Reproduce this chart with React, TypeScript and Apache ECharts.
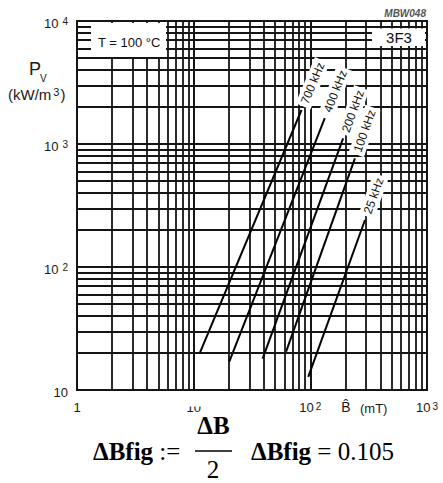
import React, { useEffect, useRef } from "react";
import * as echarts from "echarts";

// ---- data ----
const curveLabels = ["700 kHz", "400 kHz", "200 kHz", "100 kHz", "25 kHz"];
const bStart = [11.3, 20.2, 39, 62, 96]; // mT
const bEnd = [84, 133, 191, 241, 294]; // mT
const pStart = [20, 17, 18, 20.5, 12.8]; // kW/m3
const pEnd = [1890, 1620, 1110, 765, 241]; // kW/m3

const xDecades = [1, 10, 100, 1000];
const yDecades = [10, 100, 1000, 10000];
const minorSteps = [2, 3, 4, 5, 6, 7, 8, 9];

const tempText = "T = 100 °C";
const materialText = "3F3";
const figCode = "MBW048";
const yName = "P";
const ySub = "V";
const yUnit = "{n|(kW/m}{s|3}{n|)}";
const xName = "B\u0302";
const xUnit = "(mT)";
const formulaLeft = "{b|ΔBfig} :=";
const formulaNum = "ΔB";
const formulaDen = "2";
const formulaResultName = "ΔBfig";
const formulaResultValue = 0.105;

const SANS = "'Liberation Sans', Arial, sans-serif";
const SERIF = "'Liberation Serif', 'Times New Roman', serif";
const GRID = "#151515";

export default function App() {
  const ref = useRef<HTMLDivElement>(null);

  useEffect(() => {
    if (!ref.current) return;
    const chart = echarts.init(ref.current, undefined, { renderer: "svg" });

    const xMinor: number[] = [];
    xDecades.slice(0, -1).forEach((d) => minorSteps.forEach((m) => xMinor.push(d * m)));
    const yMinor: number[] = [];
    yDecades.slice(0, -1).forEach((d) => minorSteps.forEach((m) => yMinor.push(d * m)));

    const supFmt = (v: number) => {
      const e = Math.round(Math.log10(v));
      if (e === 0) return "1";
      if (e === 1) return "10";
      return "10{sup|" + e + "}";
    };

    const curveSeries = curveLabels.map((name, i) => ({
      type: "line",
      name,
      data: [
        [bStart[i], pStart[i]],
        [bEnd[i], pEnd[i]],
      ],
      showSymbol: false,
      symbol: "none",
      lineStyle: { color: "#000", width: 2 },
      z: 5,
      silent: true,
    }));

    chart.setOption({
      animation: false,
      grid: {
        left: 77,
        top: 21,
        width: 350,
        height: 369,
        show: true,
        borderColor: GRID,
        borderWidth: 2,
        backgroundColor: "#fff",
      },
      xAxis: {
        type: "log",
        logBase: 10,
        min: 1,
        max: 1000,
        splitNumber: 3,
        axisLine: { show: true, lineStyle: { color: GRID, width: 2 } },
        axisTick: { show: false },
        splitLine: { show: true, lineStyle: { color: GRID, width: 2 } },
        axisLabel: {
          formatter: supFmt,
          fontSize: 13,
          fontFamily: SANS,
          color: "#1a1a1a",
          margin: 11,
          showMaxLabel: true,
          showMinLabel: true,
          rich: { sup: { fontSize: 10, verticalAlign: "top", padding: [0, 0, 0, 2], fontFamily: SANS, color: "#1a1a1a" } },
        },
      },
      yAxis: {
        type: "log",
        logBase: 10,
        min: 10,
        max: 10000,
        splitNumber: 3,
        axisLine: { show: true, lineStyle: { color: GRID, width: 2 } },
        axisTick: { show: false },
        splitLine: { show: true, lineStyle: { color: GRID, width: 2 } },
        axisLabel: {
          formatter: supFmt,
          fontSize: 13,
          fontFamily: SANS,
          color: "#1a1a1a",
          margin: 9,
          padding: [4, 0, 0, 0],
          showMaxLabel: true,
          showMinLabel: true,
          rich: { sup: { fontSize: 10, verticalAlign: "top", padding: [0, 0, 0, 4], fontFamily: SANS, color: "#1a1a1a" } },
        },
      },
      series: [
        {
          type: "line",
          data: [],
          silent: true,
          z: 1,
          markLine: {
            silent: true,
            symbol: ["none", "none"],
            label: { show: false },
            lineStyle: { type: "solid", color: GRID, width: 1.8 },
            data: [
              ...xMinor.map((v) => ({ xAxis: v })),
              ...yMinor.map((v) => ({ yAxis: v })),
            ],
          },
        },
        ...curveSeries,
      ],
    });

    // rotated frequency labels placed at each curve's upper end
    const labelEls: any[] = [];
    curveLabels.forEach((name, i) => {
      const p0 = chart.convertToPixel({ gridIndex: 0 }, [bStart[i], pStart[i]]) as number[];
      const p1 = chart.convertToPixel({ gridIndex: 0 }, [bEnd[i], pEnd[i]]) as number[];
      const ang = Math.atan2(p0[1] - p1[1], p1[0] - p0[0]);
      const gap = 4;
      labelEls.push({
        type: "text",
        x: p1[0] + gap * Math.cos(ang),
        y: p1[1] - gap * Math.sin(ang),
        rotation: ang,
        z: 120,
        style: {
          text: name,
          fontSize: 12,
          fontFamily: SANS,
          fill: "#111",
          align: "left",
          verticalAlign: "middle",
          backgroundColor: "#fff",
          padding: [2, 3],
        },
      });
    });

    chart.setOption({
      graphic: [
        // temperature box
        { type: "rect", shape: { x: 91, y: 23, width: 75, height: 34 }, style: { fill: "#fff" }, z: 100 },
        {
          type: "text",
          x: 98,
          y: 42,
          z: 101,
          style: { text: tempText, fontSize: 13, fontFamily: SANS, fill: "#111", verticalAlign: "middle" },
        },
        // material box
        { type: "rect", shape: { x: 372, y: 28.5, width: 53, height: 17.5 }, style: { fill: "#fff" }, z: 100 },
        {
          type: "text",
          x: 399,
          y: 37.5,
          z: 101,
          style: { text: materialText, fontSize: 15, fontFamily: SANS, fill: "#111", align: "center", verticalAlign: "middle" },
        },
        // figure code
        {
          type: "text",
          x: 426,
          y: 13,
          z: 101,
          style: {
            text: figCode,
            fontSize: 10,
            fontStyle: "italic",
            fontWeight: "bold",
            fontFamily: SANS,
            fill: "#555",
            align: "right",
            verticalAlign: "middle",
          },
        },
        // y axis name
        {
          type: "text",
          x: 29,
          y: 69,
          z: 101,
          style: { text: yName, fontSize: 18, fontFamily: SANS, fill: "#1a1a1a", verticalAlign: "middle" },
        },
        {
          type: "text",
          x: 40,
          y: 78,
          z: 101,
          style: { text: ySub, fontSize: 10, fontFamily: SANS, fill: "#1a1a1a", verticalAlign: "middle" },
        },
        {
          type: "text",
          x: 8,
          y: 94,
          z: 101,
          style: {
            text: yUnit,
            fontSize: 15,
            fontFamily: SANS,
            fill: "#1a1a1a",
            verticalAlign: "middle",
            rich: {
              n: { fontSize: 15, fontFamily: SANS, fill: "#1a1a1a" },
              s: { fontSize: 11, verticalAlign: "top", fontFamily: SANS, fill: "#1a1a1a", padding: [0, 1, 0, 2] },
            },
          },
        },
        // x axis name
        {
          type: "text",
          x: 346,
          y: 407,
          z: 101,
          style: { text: xName, fontSize: 14, fontFamily: SANS, fill: "#1a1a1a", align: "center", verticalAlign: "middle" },
        },
        {
          type: "text",
          x: 360,
          y: 408,
          z: 101,
          style: { text: xUnit, fontSize: 13, fontFamily: SANS, fill: "#1a1a1a", verticalAlign: "middle" },
        },
        // cover clipping the top of the "10" label as in the reference
        { type: "rect", shape: { x: 182, y: 397, width: 24, height: 9.5 }, style: { fill: "#fff" }, z: 110 },
        // formula
        {
          type: "text",
          x: 93,
          y: 451,
          z: 101,
          style: {
            text: formulaLeft,
            fontSize: 25,
            fontFamily: SERIF,
            fill: "#000",
            verticalAlign: "middle",
            rich: { b: { fontSize: 25, fontWeight: "bold", fontFamily: SERIF, fill: "#000" } },
          },
        },
        {
          type: "text",
          x: 213.5,
          y: 425,
          z: 101,
          style: {
            text: formulaNum,
            fontSize: 25,
            fontWeight: "bold",
            fontFamily: SERIF,
            fill: "#000",
            align: "center",
            verticalAlign: "middle",
          },
        },
        {
          type: "line",
          z: 101,
          shape: { x1: 195, y1: 451, x2: 232, y2: 451 },
          style: { stroke: "#000", lineWidth: 1.5 },
        },
        {
          type: "text",
          x: 213,
          y: 469,
          z: 101,
          style: { text: formulaDen, fontSize: 25, fontFamily: SERIF, fill: "#000", align: "center", verticalAlign: "middle" },
        },
        {
          type: "text",
          x: 251,
          y: 451,
          z: 101,
          style: {
            text: "{b|" + formulaResultName + "} = " + formulaResultValue.toFixed(3),
            fontSize: 25,
            fontFamily: SERIF,
            fill: "#000",
            verticalAlign: "middle",
            rich: { b: { fontSize: 25, fontWeight: "bold", fontFamily: SERIF, fill: "#000" } },
          },
        },
        ...labelEls,
      ],
    });

    return () => chart.dispose();
  }, []);

  return (
    <div
      ref={ref}
      style={{ position: "absolute", left: 0, top: 0, width: 443, height: 483, background: "#fff" }}
    />
  );
}
